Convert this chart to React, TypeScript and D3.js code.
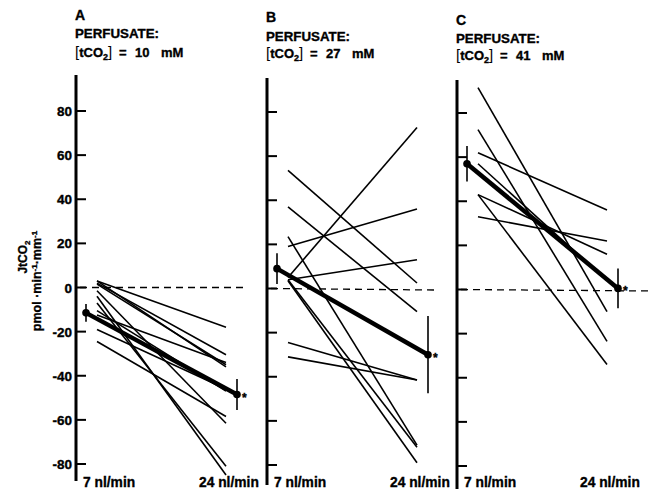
import React from 'react';
import * as d3 from 'd3';

// flow rates on the x axis (nl/min)
const flows = [7, 24];
const panelLetters = ['A', 'B', 'C'];
const perfusateMM = ['10', '27', '41'];
const yTicks = [80, 60, 40, 20, 0, -20, -40, -60, -80];

// individual tubules, JtCO2 at 7 and at 24 nl/min
const aStart = [3, 3, 2, 1.5, -1.5, -4, -7, -10.5, -12.5, -19, -24.5];
const aEnd = [-18, -36, -30.5, -35, -61.5, -85, -81, -47, -34, -46, -58.5];
const bStart = [53.5, 37, 19, 5, 4, 23.5, 3.5, 4, -24.5, -31];
const bEnd = [2.5, -10.5, 36, 73, 13, -71, -79, -72, -41.5, -41.5];
const cStart = [91.5, 72.5, 62, 43, 43, 33, 57];
const cEnd = [-10, -23.5, 36, -34, 16, 22, 4];

// group means +/- SE
const meanStart = [-11.5, 9, 57];
const meanStartErr = [4, 7, 8];
const meanEnd = [-48.5, -30, 0.5];
const meanEndErr = [7, 17.5, 9];

const W = 652;
const H = 491;
const font = '"Liberation Sans", Arial, sans-serif';

const axisX = [76, 267, 457];
const yShift = [0, 1, 2];
const axisTop = [75, 78, 80];
const axisBottom = [481, 485, 489];
const headBase = [[20, 38, 57], [22, 41, 58], [25, 43, 60]];

const starts = [aStart, bStart, cStart];
const ends = [aEnd, bEnd, cEnd];

// heavy bold text like the original typeface
const heavy = { fontFamily: font, fontWeight: 'bold' as const, stroke: '#000', strokeWidth: 0.35 };

function Panel({ i }: { i: number }) {
  const ax = axisX[i];
  const y = d3.scaleLinear().domain([-80, 80]).range([464 + yShift[i], 111 + yShift[i]]);
  const x = d3.scaleLinear().domain(flows).range([ax + 21, ax + 150]);
  const mx0 = x(flows[0]) - 11;
  const mx1 = x(flows[1]) + 11;
  const hb = headBase[i];
  return (
    <g>
      {/* header */}
      <text x={ax - 1} y={hb[0]} fontSize={14} {...heavy}>{panelLetters[i]}</text>
      <text x={ax - 1} y={hb[1]} fontSize={13.3} {...heavy}>PERFUSATE:</text>
      <text x={ax - 1} y={hb[2]} fontSize={13} {...heavy}>
        <tspan fontWeight="normal" fontSize={15} strokeWidth={0}>[</tspan>tCO<tspan fontSize={9} dy={3}>2</tspan>
        <tspan dy={-3} fontWeight="normal" fontSize={15} strokeWidth={0}>]</tspan>
      </text>
      <text x={ax + 43} y={hb[2]} fontSize={13} {...heavy}>=</text>
      <text x={ax + 59} y={hb[2]} fontSize={13} {...heavy}>{perfusateMM[i]}</text>
      <text x={ax + 85} y={hb[2]} fontSize={13} {...heavy}>mM</text>

      {/* axis */}
      <line x1={ax} x2={ax} y1={axisTop[i]} y2={axisBottom[i]} stroke="#000" strokeWidth={3} />
      {yTicks.map(t => (
        <line key={t} x1={ax} x2={ax + 10} y1={y(t)} y2={y(t)} stroke="#000" strokeWidth={2} />
      ))}
      {i === 0 && yTicks.map(t => (
        <text key={'l' + t} x={ax - 4} y={y(t) + 5} textAnchor="end" fontSize={13.5} {...heavy}>
          {t < 0 ? '-' + Math.abs(t) : t}
        </text>
      ))}

      {/* zero line */}
      <line x1={ax + 4} x2={i === 2 ? W : mx1 + 6} y1={y(0)} y2={y(0) + (i === 0 ? 0 : 1.5)}
        stroke="#000" strokeWidth={1.3} strokeDasharray="7,5" />

      {/* individual tubules */}
      {starts[i].map((s, k) => (
        <line key={k} x1={x(flows[0])} y1={y(s)} x2={x(flows[1])} y2={y(ends[i][k])}
          stroke="#000" strokeWidth={1.6} />
      ))}

      {/* mean */}
      <line x1={mx0} y1={y(meanStart[i])} x2={mx1} y2={y(meanEnd[i])} stroke="#000" strokeWidth={4.5} />
      <line x1={mx0} x2={mx0} y1={y(meanStart[i] + meanStartErr[i])} y2={y(meanStart[i] - meanStartErr[i])}
        stroke="#000" strokeWidth={1.6} />
      <line x1={mx1} x2={mx1} y1={y(meanEnd[i] + meanEndErr[i])} y2={y(meanEnd[i] - meanEndErr[i])}
        stroke="#000" strokeWidth={1.6} />
      <circle cx={mx0} cy={y(meanStart[i])} r={3.8} fill="#000" />
      <circle cx={mx1} cy={y(meanEnd[i])} r={3.8} fill="#000" />
      <text x={mx1 + 5} y={y(meanEnd[i]) + 7} fontSize={12} {...heavy}>*</text>

      {/* flow labels */}
      <text x={ax + 7} y={487} fontSize={13.8} {...heavy}>{flows[0]} nl/min</text>
      <text x={ax + 123} y={487} fontSize={13.8} {...heavy}>{flows[1]} nl/min</text>
    </g>
  );
}

export default function App() {
  return (
    <svg width={W} height={H} style={{ position: 'absolute', left: 0, top: 0, background: '#fff' }}>
      <rect width={W} height={H} fill="#fff" />
      {panelLetters.map((_, i) => <Panel key={i} i={i} />)}
      <g transform="translate(27,257) rotate(-90)">
        <text textAnchor="middle" fontSize={12} {...heavy}>
          JtCO<tspan fontSize={8} dy={2.5}>2</tspan>
        </text>
      </g>
      <g transform="translate(41,281) rotate(-90)">
        <text textAnchor="middle" fontSize={12.5} {...heavy}>
          pmol ·min<tspan fontSize={8} dy={-4}>-1</tspan><tspan dy={4}>·mm</tspan><tspan fontSize={8} dy={-4}>-1</tspan>
        </text>
      </g>
    </svg>
  );
}
